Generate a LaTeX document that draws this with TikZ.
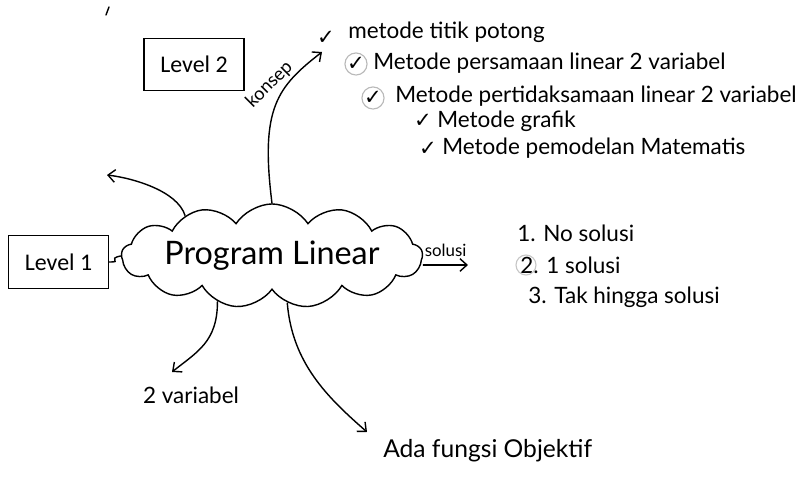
\documentclass[tikz,border=0pt]{standalone}
\usepackage{fontspec}
\setmainfont{Lato}
\newfontfamily\boxfont{Carlito}
\newfontfamily\symfont{DejaVu Sans}
\usetikzlibrary{shapes.symbols,arrows.meta}

\begin{document}
\begin{tikzpicture}[x=0.025cm, y=0.025cm,
  hand/.style={line width=1pt, line cap=round},
  arr/.style={hand, -{Straight Barb[length=5pt, width=9pt]}},
  lvl/.style={draw, line width=0.8pt, minimum width=2.5cm, minimum height=1.32cm,
    font=\boxfont\fontsize{17}{20}\selectfont},
  item/.style={anchor=west, inner sep=0pt, font=\fontsize{16}{19}\selectfont},
  chk/.style={inner sep=0.5pt, font=\symfont\fontsize{15}{18}\selectfont},
  ring/.style={chk, circle, draw=gray!55, line width=0.8pt, inner sep=0pt}]
\useasboundingbox (0,0) rectangle (812,479);
\coordinate (konTip) at (322,427);
\coordinate (leftTip) at (107,304);
\coordinate (solTip) at (468,214);
\coordinate (varTip) at (172,107);
\coordinate (objTip) at (367,47);
\draw[hand] (106,464) -- (109,472);
\node[lvl] (lvlTwo) at (194,414.5) {Level 2};
\node[lvl] (lvlOne) at (58.5,217) {Level 1};
\node[cloud, draw, hand, cloud puffs=13, cloud puff arc=115, cloud ignores aspect,
  minimum width=6.25cm, minimum height=2.6cm, inner sep=0pt,
  font=\fontsize{23}{26}\selectfont] (pl) at (272,223) {Program Linear};
\node[chk] (c1) at (326,441) {✓};
\node[item] (k1) at (348,447) {metode titik potong};
\node[ring] (c2) at (356,415) {✓};
\node[item] (k2) at (373,416) {Metode persamaan linear 2 variabel};
\node[ring] (c3) at (373,381) {✓};
\node[item] (k3) at (395,383) {Metode pertidaksamaan linear 2 variabel};
\node[chk] (c4) at (423,358) {✓};
\node[item] (k4) at (437,358) {Metode grafik};
\node[chk] (c5) at (428,330) {✓};
\node[item] (k5) at (442,331) {Metode pemodelan Matematis};
\node[item] (s1) at (517,246) {1. No solusi};
\node[item] (s2) at (520,214) {2. 1 solusi};
\draw[gray!45, line width=0.8pt] (s2.west) ++(6,0) circle (10);
\node[item] (s3) at (528,182) {3. Tak hingga solusi};
\node[item, anchor=center] (var) at (191,84) {2 variabel};
\node[item, font=\fontsize{17.5}{20}\selectfont] (obj) at (383,28) {Ada fungsi Objektif};
\draw[arr] (pl.north) .. controls +(-12,95) and +(-45,-35) .. (konTip)
  node[pos=0.58, rotate=45, anchor=south, yshift=1pt, font=\fontsize{13}{15}\selectfont] (kon) {konsep};
\draw[arr] (pl.155) .. controls +(-8,25) and +(25,-3) .. (leftTip);
\draw[hand] (lvlOne.east) .. controls +(15,0) and +(-15,-3) .. (pl.west);
\draw[arr] (pl.east |- solTip) -- (solTip)
  node[midway, above=2pt, font=\fontsize{12}{14}\selectfont] (sol) {solusi};
\draw[arr] (pl.-140) .. controls +(0,-40) and +(25,20) .. (varTip);
\draw[arr] (pl.-72) .. controls +(5,-60) and +(-40,35) .. (objTip);
\end{tikzpicture}
\end{document}
